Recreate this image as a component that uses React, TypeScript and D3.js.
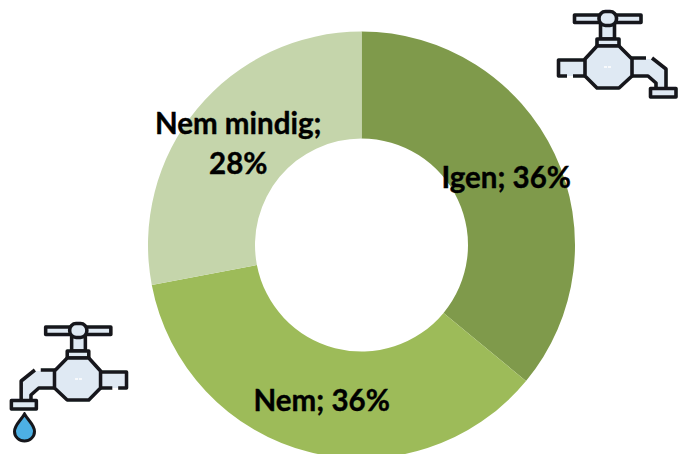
import * as d3 from 'd3'

const W = 679
const H = 454

const categories = ['Igen', 'Nem', 'Nem mindig']
const values = [36, 36, 28]
const colors = ['#7f9a4b', '#9dbb59', '#c5d5ab']

const cx = 361.5
const cy = 245
const outerR = 213.5
const innerR = 106.5

const INK = '#15171a'
const BODY = '#dfe9f3'

// faucet icon, drawn with the spout to the right
function Faucet({ transform }: { transform: string }) {
  const line = { stroke: INK, strokeWidth: 3.6, fill: BODY, strokeLinejoin: 'round' as const }
  return (
    <g transform={transform} filter="url(#soft)">
      {/* inlet pipe, open at the bottom */}
      <rect x="559" y="60" width="28" height="16" fill={BODY} />
      <path d="M585 60H558.5V76H567M573 76H586" {...line} fill="none" />
      {/* spout */}
      <path d="M630 59H647L653 59L666 70V88H656V82L648 76H630Z" fill={BODY} />
      <path d="M630 58H646M652 58L666 69V88M656 88V83L648 76H630" {...line} fill="none" />
      <rect x="650.5" y="88.5" width="25.5" height="8.5" {...line} />
      {/* stem */}
      <rect x="600.5" y="24" width="14" height="15" {...line} />
      <rect x="597" y="39" width="22" height="7" {...line} />
      {/* handle */}
      <rect x="574.5" y="15" width="66.5" height="7.5" {...line} />
      <rect x="599" y="11.5" width="17.5" height="14" rx="6.5" {...line} />
      {/* valve body */}
      <path d="M597 46H619L632 59V76L619 88H597L585 76V59Z" {...line} />
      <path d="M604 67H611" stroke="#fff" strokeWidth="2" strokeDasharray="3 1" opacity="0.8" />
    </g>
  )
}

export default function App() {
  const pie = d3.pie<number>().sort(null).value(d => d)
  const arc = d3.arc<d3.PieArcDatum<number>>().innerRadius(innerR).outerRadius(outerR)
  const slices = pie(values)

  return (
    <svg
      width={W}
      height={H}
      viewBox={`0 0 ${W} ${H}`}
      style={{ position: 'fixed', left: 0, top: 0, background: '#fff' }}
    >
      <defs>
        <filter id="soft" x="-5%" y="-5%" width="110%" height="110%">
          <feGaussianBlur stdDeviation="0.55" />
        </filter>
      </defs>

      <g transform={`translate(${cx},${cy})`}>
        {slices.map((s, i) => (
          <path key={categories[i]} d={arc(s) ?? ''} fill={colors[i]} />
        ))}
        {slices.map((s, i) => {
          const [x, y] = arc.centroid(s)
          const pct = `${values[i]}%`
          const twoLines = categories[i].length > 5
          return (
            <text
              key={categories[i]}
              x={x}
              y={y}
              textAnchor="middle"
              fontFamily="Lato, 'Open Sans', sans-serif"
              fontWeight={700}
              fontSize={29.5}
              stroke="#000"
              strokeWidth={0.4}
              fill="#000"
            >
              {twoLines ? (
                <>
                  <tspan x={x} dy={-9.5}>{categories[i]};</tspan>
                  <tspan x={x} dy={40}>{pct}</tspan>
                </>
              ) : (
                <tspan x={x} dy={11}>{`${categories[i]}; ${pct}`}</tspan>
              )}
            </text>
          )
        })}
      </g>

      <Faucet transform="" />
      <Faucet transform="translate(673.85,312) scale(-0.98,1)" />

      {/* water drop */}
      <path
        d="M24.5 414C20.5 421 14.5 425 14.5 431.5A10 9.5 0 0 0 34.5 431.5C34.5 425 28.5 421 24.5 414Z"
        fill="#4db0e4"
        stroke={INK}
        strokeWidth={3}
        filter="url(#soft)"
      />
    </svg>
  )
}
